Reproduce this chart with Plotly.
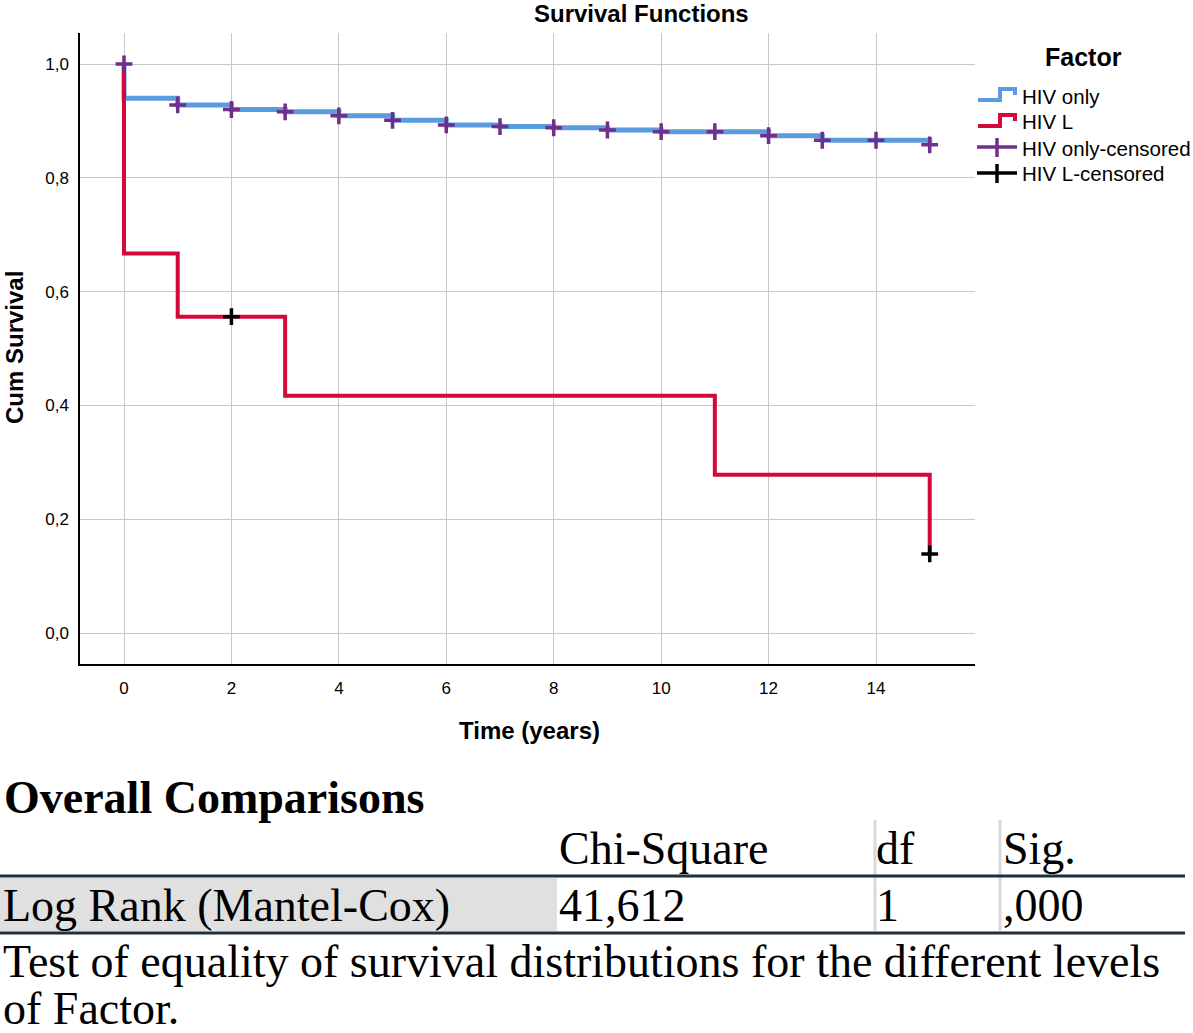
import plotly.graph_objects as go

# ---------------- data ----------------
hiv_only_time = [0, 0, 1, 2, 3, 4, 5, 6, 7, 8, 9, 10, 11, 12, 13, 14, 15]
hiv_only_surv = [1.0, 0.940, 0.928, 0.920, 0.916, 0.909, 0.901, 0.893, 0.890,
                 0.888, 0.884, 0.881, 0.881, 0.874, 0.866, 0.866, 0.858]
hiv_only_cens_time = [0, 1, 2, 3, 4, 5, 6, 7, 8, 9, 10, 11, 12, 13, 14, 15]
hiv_only_cens_surv = [1.0, 0.928, 0.920, 0.916, 0.909, 0.901, 0.893, 0.890,
                      0.888, 0.884, 0.881, 0.881, 0.874, 0.866, 0.866, 0.858]

hiv_l_time = [0, 0, 1, 3, 11, 15]
hiv_l_surv = [1.0, 0.667, 0.556, 0.417, 0.278, 0.139]
hiv_l_cens_time = [2, 15]
hiv_l_cens_surv = [0.556, 0.139]

x_ticks = [0, 2, 4, 6, 8, 10, 12, 14]
y_ticks = [0.0, 0.2, 0.4, 0.6, 0.8, 1.0]

legend_labels = ["HIV only", "HIV L", "HIV only-censored", "HIV L-censored"]

table_header = ["Chi-Square", "df", "Sig."]
table_row_label = "Log Rank (Mantel-Cox)"
table_row_values = ["41,612", "1", ",000"]
table_title = "Overall Comparisons"
table_caption = ["Test of equality of survival distributions for the different levels",
                 "of Factor."]

# ---------------- colours ----------------
BLUE = "#5b9be0"
RED = "#d20a3c"
PURPLE = "#6f2f8b"
BLACK = "#000000"

W, H = 1193, 1033
L, R, T, B = 80, 975, 33, 664
PW, PH = R - L, B - T


def px(x):
    return (x - L) / PW


def py(y):
    return (B - y) / PH


fig = go.Figure()

fig.add_trace(go.Scatter(x=hiv_only_time, y=hiv_only_surv, mode="lines",
                         line=dict(color=BLUE, width=5, shape="hv"),
                         name=legend_labels[0], showlegend=False))
fig.add_trace(go.Scatter(x=hiv_l_time, y=hiv_l_surv, mode="lines",
                         line=dict(color=RED, width=4, shape="hv"),
                         name=legend_labels[1], showlegend=False))
fig.add_trace(go.Scatter(x=hiv_only_cens_time, y=hiv_only_cens_surv, mode="markers",
                         marker=dict(symbol="cross-thin", size=12,
                                     line=dict(color=PURPLE, width=3.5)),
                         name=legend_labels[2], showlegend=False))
fig.add_trace(go.Scatter(x=hiv_l_cens_time, y=hiv_l_cens_surv, mode="markers",
                         marker=dict(symbol="cross-thin", size=12,
                                     line=dict(color=BLACK, width=3.5)),
                         name=legend_labels[3], showlegend=False))

SANS = "Liberation Sans, Arial, sans-serif"
SERIF = "Liberation Serif, Times New Roman, serif"

annotations = []
shapes = []

# chart title and axis titles
annotations.append(dict(text="<b>Survival Functions</b>", x=px(641), y=py(14),
                        xref="paper", yref="paper", showarrow=False,
                        font=dict(family=SANS, size=24, color="black"),
                        xanchor="center", yanchor="middle"))
annotations.append(dict(text="<b>Time (years)</b>", x=px(529), y=py(730),
                        xref="paper", yref="paper", showarrow=False,
                        font=dict(family=SANS, size=24, color="black"),
                        xanchor="center", yanchor="middle"))
annotations.append(dict(text="<b>Cum Survival</b>", x=px(14), y=py(348),
                        xref="paper", yref="paper", showarrow=False, textangle=-90,
                        font=dict(family=SANS, size=24, color="black"),
                        xanchor="center", yanchor="middle"))

# manual legend
annotations.append(dict(text="<b>Factor</b>", x=px(1083), y=py(57),
                        xref="paper", yref="paper", showarrow=False,
                        font=dict(family=SANS, size=25, color="black"),
                        xanchor="center", yanchor="middle"))
leg_rows = [96, 122, 148, 174]
for lab, yy in zip(legend_labels, leg_rows):
    annotations.append(dict(text=lab, x=px(1020), y=py(yy), xref="paper", yref="paper",
                            showarrow=False, font=dict(family=SANS, size=20.5, color="black"),
                            xanchor="left", yanchor="middle"))


def step_path(y0):
    pts = [(978, y0 + 4), (1000, y0 + 4), (1000, y0 - 7), (1015, y0 - 7), (1015, y0 - 1)]
    s = "M %f %f" % (px(pts[0][0]), py(pts[0][1]))
    for a, b in pts[1:]:
        s += " L %f %f" % (px(a), py(b))
    return s


shapes.append(dict(type="path", path=step_path(leg_rows[0]), xref="paper", yref="paper",
                   line=dict(color=BLUE, width=4)))
shapes.append(dict(type="path", path=step_path(leg_rows[1]), xref="paper", yref="paper",
                   line=dict(color=RED, width=4)))
for col, yy in [(PURPLE, leg_rows[2]), (BLACK, leg_rows[3])]:
    shapes.append(dict(type="line", x0=px(977), x1=px(1017), y0=py(yy - 1), y1=py(yy - 1),
                       xref="paper", yref="paper", line=dict(color=col, width=3.5)))
    shapes.append(dict(type="line", x0=px(997), x1=px(997), y0=py(yy - 10), y1=py(yy + 9),
                       xref="paper", yref="paper", line=dict(color=col, width=3.5)))

# ---------------- table ----------------
annotations.append(dict(text="<b>" + table_title + "</b>", x=px(2), y=py(797),
                        xref="paper", yref="paper", showarrow=False,
                        font=dict(family=SERIF, size=46, color="black"),
                        xanchor="left", yanchor="middle"))
# grey label cell
shapes.append(dict(type="rect", x0=px(0), x1=px(557), y0=py(878), y1=py(931),
                   xref="paper", yref="paper", fillcolor="#e0e0e0", line=dict(width=0),
                   layer="below"))
# vertical separators
for xx in [875, 1000]:
    shapes.append(dict(type="line", x0=px(xx), x1=px(xx), y0=py(820), y1=py(931),
                       xref="paper", yref="paper", line=dict(color="#d9d9d9", width=3)))
# horizontal rules
for yy in [876, 933]:
    shapes.append(dict(type="line", x0=px(0), x1=px(1185), y0=py(yy), y1=py(yy),
                       xref="paper", yref="paper", line=dict(color="#1e2f3d", width=3)))

col_x = [557, 874, 1001]
for txt, xx in zip(table_header, col_x):
    annotations.append(dict(text=txt, x=px(xx), y=py(848), xref="paper", yref="paper",
                            showarrow=False, font=dict(family=SERIF, size=46, color="black"),
                            xanchor="left", yanchor="middle"))
annotations.append(dict(text=table_row_label, x=px(1), y=py(905), xref="paper", yref="paper",
                        showarrow=False, font=dict(family=SERIF, size=46, color="black"),
                        xanchor="left", yanchor="middle"))
for txt, xx in zip(table_row_values, col_x):
    annotations.append(dict(text=txt, x=px(xx), y=py(905), xref="paper", yref="paper",
                            showarrow=False, font=dict(family=SERIF, size=46, color="black"),
                            xanchor="left", yanchor="middle"))
for txt, yy in zip(table_caption, [961, 1008]):
    annotations.append(dict(text=txt, x=px(1), y=py(yy), xref="paper", yref="paper",
                            showarrow=False, font=dict(family=SERIF, size=46, color="black"),
                            xanchor="left", yanchor="middle"))

fig.update_layout(
    width=W, height=H,
    margin=dict(l=L, r=W - R, t=T, b=H - B, pad=0),
    paper_bgcolor="white", plot_bgcolor="white",
    separators=", ",
    showlegend=False,
    font=dict(family=SANS, color="black"),
    annotations=annotations,
    shapes=shapes,
    xaxis=dict(range=[(L - 124) / 53.714, (R - 124) / 53.714], tickvals=x_ticks,
               showgrid=True, gridcolor="#c8c8c8", gridwidth=1,
               showline=True, linecolor="black", linewidth=1.5,
               ticks="outside", ticklen=8, tickcolor="rgba(0,0,0,0)",
               tickfont=dict(family=SANS, size=17, color="black"),
               zeroline=False, fixedrange=True),
    yaxis=dict(range=[(633 - B) / 569, (633 - T) / 569], tickvals=y_ticks,
               tickformat=".1f",
               showgrid=True, gridcolor="#c8c8c8", gridwidth=1,
               showline=True, linecolor="black", linewidth=1.5,
               ticks="outside", ticklen=6, tickcolor="rgba(0,0,0,0)",
               tickfont=dict(family=SANS, size=17, color="black"),
               zeroline=False, fixedrange=True),
)

fig.write_html("out.html", config={"displayModeBar": False},
               post_script="document.body.style.margin='0';document.body.style.overflow='hidden';")
